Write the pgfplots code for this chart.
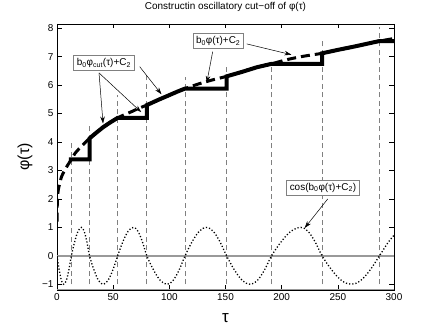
\documentclass[border=0pt]{standalone}
\usepackage{fontspec}
\setmainfont{Liberation Sans}
\usepackage{pgfplots}
\pgfplotsset{compat=1.18}
\usetikzlibrary{arrows.meta,calc}

\begin{document}
\begin{tikzpicture}
\begin{axis}[
  scale only axis, width=337bp, height=266bp,
  xmin=0, xmax=300, ymin=-1.2, ymax=8.15,
  xtick={0,50,...,300}, ytick={-1,0,...,8},
  yticklabels={−1,0,1,2,3,4,5,6,7,8},
  xtick pos=both, ytick pos=both,
  tick align=inside, major tick length=4.5bp,
  tick style={black, line width=0.6bp},
  axis line style={line width=0.6bp},
  every tick label/.append style={font=\fontsize{10}{12}\selectfont},
  /pgf/number format/assume math mode=true,
  title={Constructin oscillatory cut−off of φ(τ)},
  title style={at={(rel axis cs:0.5,1)}, anchor=center, yshift=11bp, font=\fontsize{10}{12}\selectfont},
  xlabel={τ},
  xlabel style={at={(rel axis cs:0.5,0)}, anchor=base, yshift=-33bp, font=\fontsize{17}{20}\selectfont},
  ylabel={φ(τ)},
  ylabel style={at={(rel axis cs:0,0.5)}, anchor=center, yshift=32bp, font=\fontsize{16}{19}\selectfont},
]
% zero line and bottom line
\addplot[gray!80, line width=1.3bp] coordinates {(0,0) (300,0)};
\addplot[gray!80, line width=1.5bp] coordinates {(0,-1.2) (300,-1.2)};

% zero crossings of the cosine
\addplot[gray, line width=0.8bp, dash pattern=on 5bp off 3.5bp] coordinates {(12.8,-1) (12.8,4.0)};
\addplot[gray, line width=0.8bp, dash pattern=on 5bp off 3.5bp] coordinates {(29,-1) (29,4.56)};
\addplot[gray, line width=0.8bp, dash pattern=on 5bp off 3.5bp] coordinates {(54,-1) (54,5.65)};
\addplot[gray, line width=0.8bp, dash pattern=on 5bp off 3.5bp] coordinates {(80,-1) (80,6.45)};
\addplot[gray, line width=0.8bp, dash pattern=on 5bp off 3.5bp] coordinates {(114,-1) (114,6.27)};
\addplot[gray, line width=0.8bp, dash pattern=on 5bp off 3.5bp] coordinates {(151,-1) (151,6.7)};
\addplot[gray, line width=0.8bp, dash pattern=on 5bp off 3.5bp] coordinates {(191,-1) (191,6.8)};
\addplot[gray, line width=0.8bp, dash pattern=on 5bp off 3.5bp] coordinates {(236,-1) (236,7.55)};
\addplot[gray, line width=0.8bp, dash pattern=on 5bp off 3.5bp] coordinates {(287,-1) (287,8.05)};

% cos(b0 phi + C2)
\addplot[black, line width=1.3bp, dash pattern=on 1.2bp off 2bp, smooth, tension=0.6] coordinates {
(0,0) (2,-0.5) (4,-0.866) (6,-1) (8.27,-0.866) (10.53,-0.5) (12.8,0)
(15.77,0.5) (18.73,0.866) (21.7,1) (24.13,0.866) (26.57,0.5) (29,0)
(33,-0.5) (37,-0.866) (41,-1) (45.33,-0.866) (49.67,-0.5) (54,0)
(58.67,0.5) (63.33,0.866) (68,1) (72,0.866) (76,0.5) (80,0)
(86,-0.5) (92,-0.866) (98,-1) (103.33,-0.866) (108.67,-0.5) (114,0)
(120.33,0.5) (126.67,0.866) (133,1) (139,0.866) (145,0.5) (151,0)
(158,-0.5) (165,-0.866) (172,-1) (178.33,-0.866) (184.67,-0.5) (191,0)
(199.67,0.5) (208.33,0.866) (217,1) (223.33,0.866) (229.67,0.5) (236,0)
(244.67,-0.5) (253.33,-0.866) (262,-1) (270.33,-0.866) (278.67,-0.5) (287,0)
(295.3,0.5) (300,0.72)
};

% b0 phi + C2
\addplot[black, line width=3bp, dash pattern=on 9bp off 5bp, smooth, tension=0.5] coordinates {
(0,1.2) (0.3,1.9) (0.8,2.2) (1.5,2.4) (2.5,2.55) (4,2.78) (7,3.02) (10,3.22)
(13,3.4) (16,3.6) (20,3.78) (24,3.94) (29,4.13) (35,4.33) (41,4.52) (47,4.68)
(54,4.85) (60,4.96) (67,5.08) (73,5.19) (80,5.3) (90,5.48) (100,5.65) (107,5.77)
(114,5.88) (125,6.03) (138,6.18) (151,6.31) (165,6.47) (178,6.63) (191,6.75)
(205,6.9) (220,7.02) (236,7.12) (250,7.24) (265,7.36) (280,7.49) (287,7.55) (300,7.64)
};

% b0 phi_cut + C2
\addplot[black, line width=4bp, line join=miter] coordinates {
(10.5,3.39) (29,3.39) (29,4.13) (35,4.33) (41,4.52) (47,4.68) (54,4.85)
(80,4.85) (80,5.3) (90,5.48) (100,5.65) (107,5.77) (114,5.88)
(151,5.88) (151,6.31) (165,6.47) (178,6.63) (191,6.75)
(236,6.75) (236,7.12) (250,7.24) (265,7.36) (280,7.49) (287,7.55) (300,7.55)
};

% annotations
\tikzset{ann/.style={draw=gray, line width=0.8bp, fill=white, inner sep=3bp, font=\fontsize{10}{12}\selectfont},
         arr/.style={black, line width=0.5bp, -{Stealth[length=7bp,width=4.5bp]}}}
\draw[arr] (axis cs:37.4,6.43) -- (axis cs:41,4.65);
\draw[arr] (axis cs:37.4,6.43) -- (axis cs:75,5.05);
\draw[arr] (axis cs:73.6,6.65) -- (axis cs:93,5.68);
\node[ann] at (axis cs:41.7,6.78) {b\textsubscript{0}φ\textsubscript{cut}(τ)+C\textsubscript{2}};

\draw[arr] (axis cs:168.9,7.45) -- (axis cs:208.7,7.07);
\draw[arr] (axis cs:138.6,7.18) -- (axis cs:133.3,6.08);
\node[ann] at (axis cs:143.5,7.55) {b\textsubscript{0}φ(τ)+C\textsubscript{2}};

\draw[arr] (axis cs:241,2.0) -- (axis cs:220.5,0.98);
\node[ann] at (axis cs:236.8,2.39) {cos(b\textsubscript{0}φ(τ)+C\textsubscript{2})};
\end{axis}
\pgfresetboundingbox
\path[use as bounding box] ($(current axis.south west)+(-57bp,-36bp)$) rectangle ($(current axis.north east)+(41bp,24bp)$);
\end{tikzpicture}
\end{document}
